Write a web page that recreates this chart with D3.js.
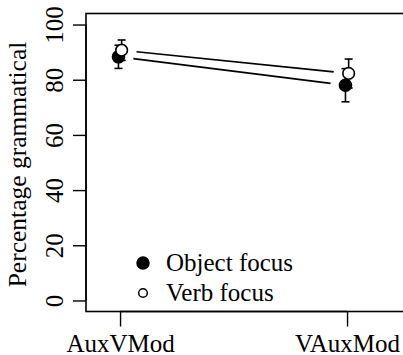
<!DOCTYPE html>
<html><head><meta charset="utf-8">
<script src="https://cdn.jsdelivr.net/npm/d3@7"></script>
<style>
html,body{margin:0;padding:0;background:#fff;}
svg{display:block;}
</style></head>
<body>
<script>
const categories = ["AuxVMod", "VAuxMod"];
const seriesNames = ["Object focus", "Verb focus"];
const objectMean = [88.3, 78.0];
const objectLow  = [84.1, 72.0];
const objectHigh = [92.5, 84.0];
const verbMean = [90.7, 82.3];
const verbLow  = [87.0, 77.0];
const verbHigh = [94.4, 87.5];
const yTicks = [0, 20, 40, 60, 80, 100];
const yTitle = "Percentage grammatical";

const FONT = "'Liberation Serif', Tinos, 'Times New Roman', Times, 'DejaVu Serif', serif";
const FS = 25;
const W = 403, H = 355;
const svg = d3.select("body").append("svg").attr("width", W).attr("height", H)
  .attr("font-family", FONT);

const x = d3.scaleLinear().domain([0.85, 2.3]).range([86, 86 + 1.45 * 227]);
const y = d3.scaleLinear().domain([-4, 104]).range([311.5, 13.5]);

const series = [
  {name: seriesNames[0], mean: objectMean, lo: objectLow, hi: objectHigh, fill: "#000", dodge: -0.007, r: 6},
  {name: seriesNames[1], mean: verbMean, lo: verbLow, hi: verbHigh, fill: "#fff", dodge: 0.007, r: 5.8}
];

// box
svg.append("rect").attr("x", x(0.85)).attr("y", y(104)).attr("width", x(2.3) - x(0.85)).attr("height", y(-4) - y(104))
  .attr("fill", "none").attr("stroke", "#000").attr("stroke-width", 1.6);

// y axis
const yAxis = svg.append("g").attr("transform", `translate(${x(0.85)},0)`)
  .call(d3.axisLeft(y).tickValues(yTicks).tickSize(13).tickPadding(10).tickFormat(d3.format("d")));
yAxis.attr("font-family", FONT);
yAxis.select(".domain").attr("d", `M0,${y(0)}V${y(100)}`).attr("stroke-width", 1.4);
yAxis.selectAll(".tick line").attr("stroke-width", 1.4);
yAxis.selectAll(".tick text").attr("font-size", FS).attr("text-anchor", "middle").attr("font-family", FONT)
  .attr("x", null).attr("dy", null)
  .attr("transform", "translate(-23,0) rotate(-90)");

// x axis
const xAxis = svg.append("g").attr("transform", `translate(0,${y(-4)})`)
  .call(d3.axisBottom(x).tickValues([1, 2]).tickSize(15).tickPadding(12).tickFormat((d, i) => categories[i]));
xAxis.attr("font-family", FONT);
xAxis.select(".domain").attr("d", `M${x(1)},0H${x(2)}`).attr("stroke-width", 1.4);
xAxis.selectAll(".tick line").attr("stroke-width", 1.4);
xAxis.selectAll(".tick text").attr("font-size", FS).attr("font-family", FONT).attr("dy", null).attr("y", 40);

// y title
svg.append("text").attr("transform", `translate(26,${(y(-4) + y(104)) / 2 + 2}) rotate(-90)`)
  .attr("text-anchor", "middle").attr("font-size", FS + 0.5).attr("font-family", FONT).text(yTitle);

const gap = 15;
series.forEach(s => {
  const pts = categories.map((c, i) => ({cx: x(i + 1 + s.dodge), cy: y(s.mean[i]), i}));
  for (let k = 0; k < pts.length - 1; k++) {
    const a = pts[k], b = pts[k + 1];
    const dx = b.cx - a.cx, dy = b.cy - a.cy, L = Math.hypot(dx, dy);
    svg.append("line")
      .attr("x1", a.cx + dx / L * gap).attr("y1", a.cy + dy / L * gap)
      .attr("x2", b.cx - dx / L * gap).attr("y2", b.cy - dy / L * gap)
      .attr("stroke", "#000").attr("stroke-width", 1.7);
  }
  pts.forEach(p => {
    const g = svg.append("g").attr("stroke", "#000").attr("stroke-width", 1.6);
    g.append("line").attr("x1", p.cx).attr("x2", p.cx).attr("y1", y(s.lo[p.i])).attr("y2", y(s.hi[p.i]));
    g.append("line").attr("x1", p.cx - 4).attr("x2", p.cx + 4).attr("y1", y(s.lo[p.i])).attr("y2", y(s.lo[p.i]));
    g.append("line").attr("x1", p.cx - 4).attr("x2", p.cx + 4).attr("y1", y(s.hi[p.i])).attr("y2", y(s.hi[p.i]));
  });
});
series.forEach(s => {
  categories.forEach((c, i) => {
    svg.append("circle").attr("cx", x(i + 1 + s.dodge)).attr("cy", y(s.mean[i])).attr("r", s.r)
      .attr("fill", s.fill).attr("stroke", "#000").attr("stroke-width", 1.6);
  });
});

// legend
const legend = svg.append("g");
series.forEach((s, k) => {
  const cy = 263 + k * 30;
  legend.append("circle").attr("cx", 143).attr("cy", cy).attr("r", k === 0 ? 6 : 4.3)
    .attr("fill", s.fill).attr("stroke", "#000").attr("stroke-width", 1.5);
  legend.append("text").attr("x", 166).attr("y", cy + 8).attr("font-size", FS).attr("font-family", FONT).text(s.name);
});
</script>
</body></html>
